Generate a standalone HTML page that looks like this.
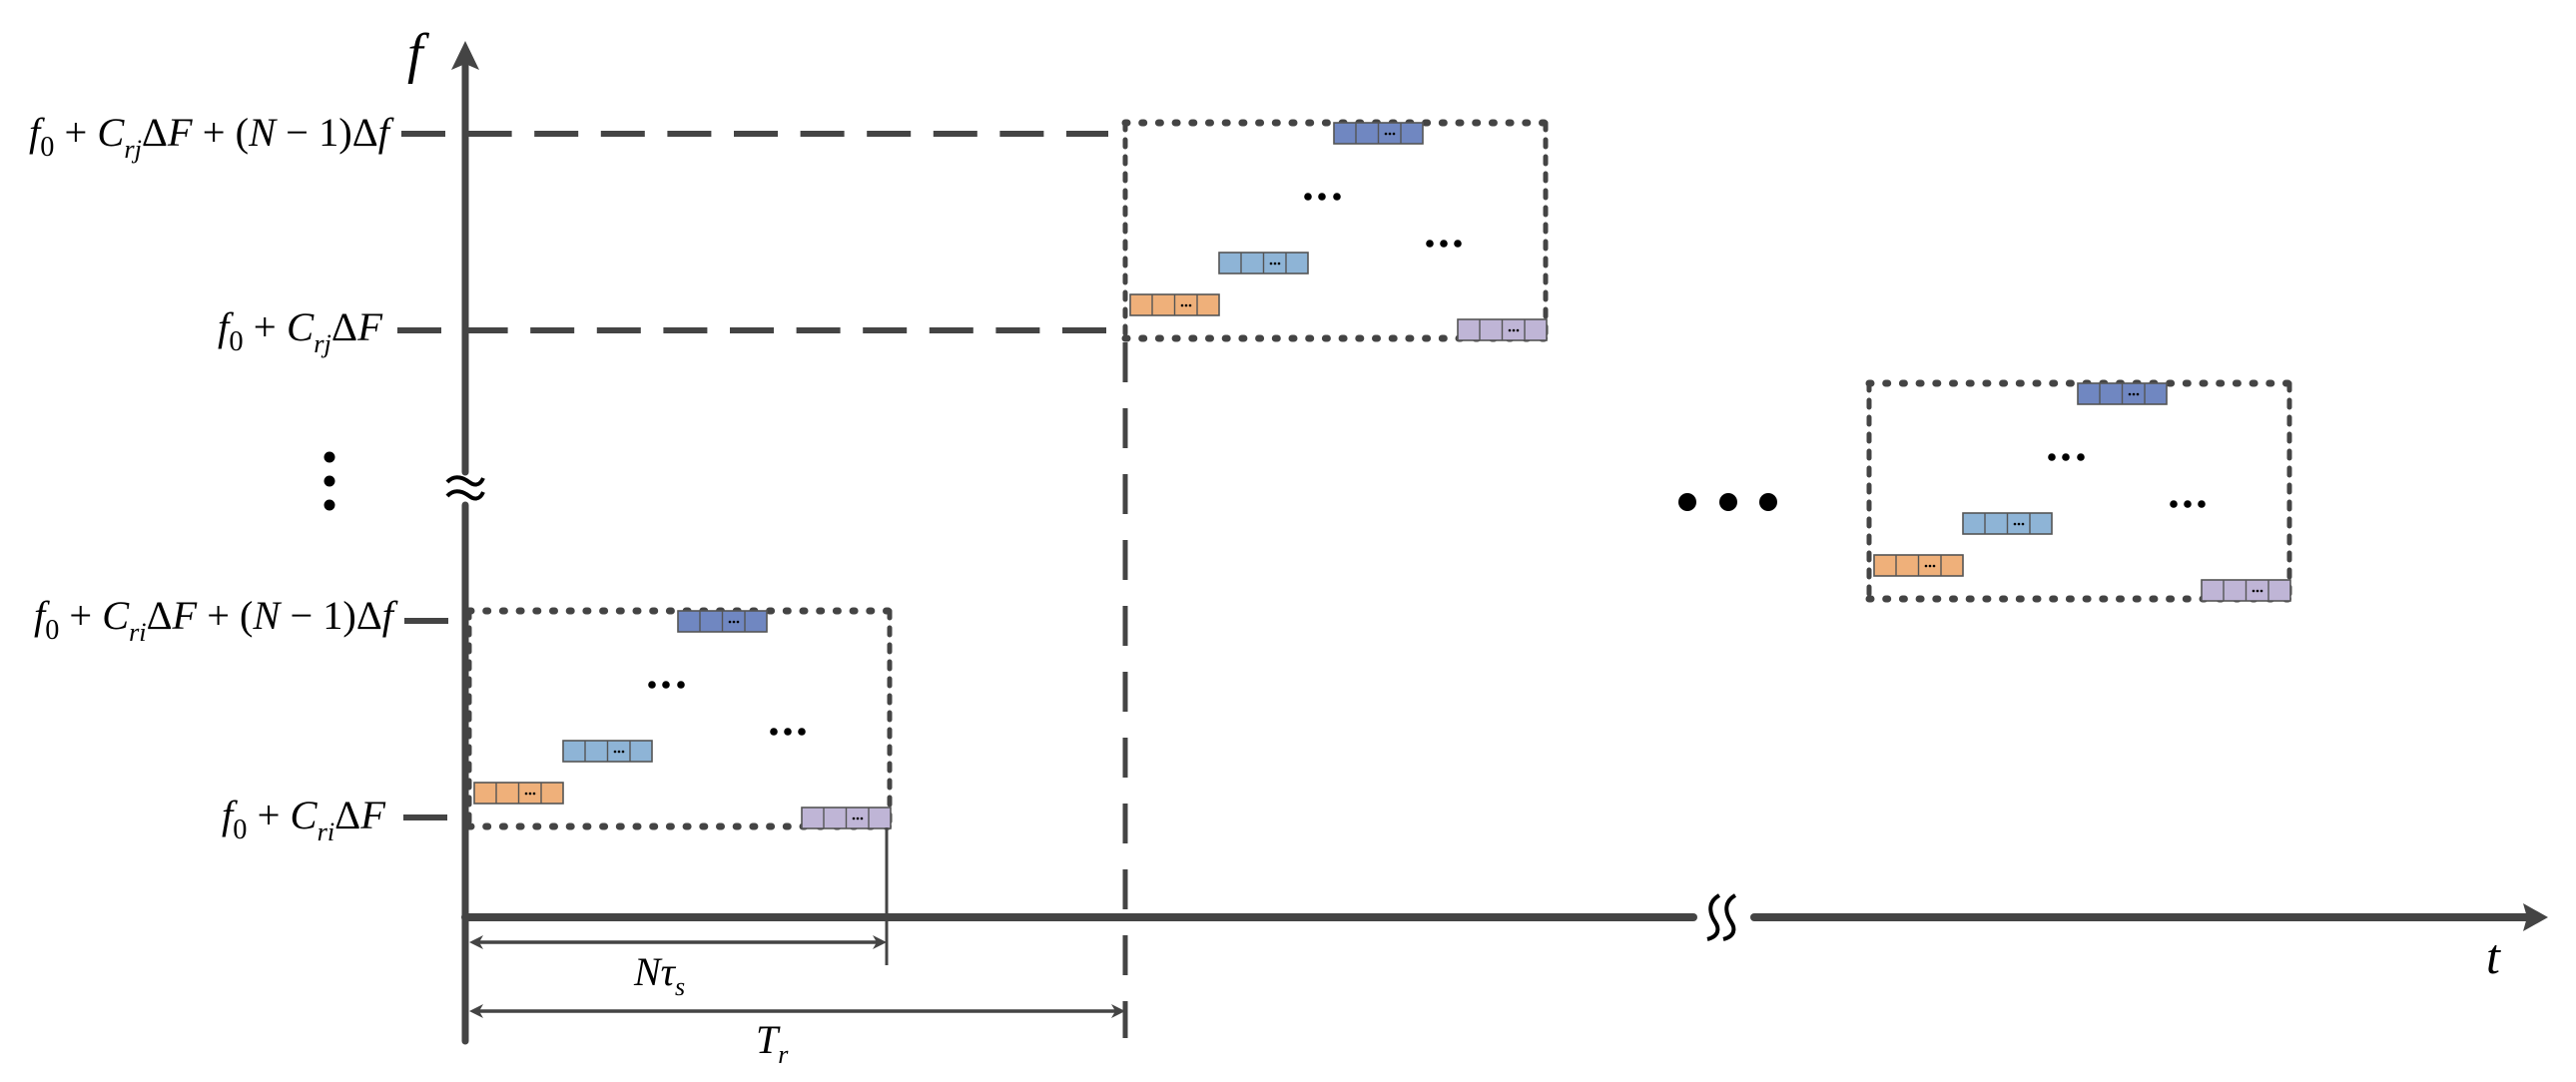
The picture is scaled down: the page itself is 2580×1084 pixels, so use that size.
<!DOCTYPE html>
<html><head><meta charset="utf-8"><style>
html,body{margin:0;padding:0;background:#fff;}
svg{display:block;}
text{font-family:"Liberation Serif",serif;font-style:italic;fill:#000;}
</style></head><body>
<svg width="2580" height="1084" viewBox="0 0 2580 1084" xmlns="http://www.w3.org/2000/svg" font-family="Liberation Serif, serif">
<defs>
<g id="blk">
  <rect x="0" y="0" width="89" height="21" stroke="#555" stroke-width="1.6"/>
  <line x1="22" y1="0" x2="22" y2="21" stroke="#555" stroke-width="1.4"/>
  <line x1="44.5" y1="0" x2="44.5" y2="21" stroke="#555" stroke-width="1.4"/>
  <line x1="67" y1="0" x2="67" y2="21" stroke="#555" stroke-width="1.4"/>
  <circle cx="52" cy="11" r="1.3" fill="#000"/><circle cx="56" cy="11" r="1.3" fill="#000"/><circle cx="60" cy="11" r="1.3" fill="#000"/>
</g>
<g id="box">
  <line x1="0" y1="0" x2="421" y2="0" stroke="#444" stroke-width="7" stroke-linecap="round" stroke-dasharray="2 14.7"/>
  <line x1="0" y1="216" x2="421" y2="216" stroke="#444" stroke-width="7" stroke-linecap="round" stroke-dasharray="2 14.7"/>
  <line x1="0" y1="0" x2="0" y2="216" stroke="#444" stroke-width="5" stroke-linecap="round" stroke-dasharray="7 10"/>
  <line x1="421" y1="0" x2="421" y2="216" stroke="#444" stroke-width="5" stroke-linecap="round" stroke-dasharray="7 10"/>
  <use href="#blk" x="209" y="0" fill="#7087C1"/>
  <use href="#blk" x="94" y="130" fill="#8EB4D6"/>
  <use href="#blk" x="5" y="172" fill="#EFB07A"/>
  <use href="#blk" x="333" y="197" fill="#BFB5D6"/>
  <circle cx="183" cy="74" r="3.8" fill="#000"/><circle cx="197" cy="74" r="3.8" fill="#000"/><circle cx="212" cy="74" r="3.8" fill="#000"/>
  <circle cx="305" cy="121" r="3.8" fill="#000"/><circle cx="319" cy="121" r="3.8" fill="#000"/><circle cx="333" cy="121" r="3.8" fill="#000"/>
</g>
</defs>

<line x1="466" y1="66" x2="466" y2="473" stroke="#444" stroke-width="7" stroke-linecap="round"/>
<line x1="466" y1="506" x2="466" y2="1043" stroke="#444" stroke-width="7" stroke-linecap="round"/>
<polygon points="466,41 452,70 466,64 480,70" fill="#444"/>
<path d="M448,483 C456,474 466,480 470,483 S480,488 484,479" fill="none" stroke="#000" stroke-width="4"/>
<path d="M448,497 C456,488 466,494 470,497 S480,502 484,493" fill="none" stroke="#000" stroke-width="4"/>
<text x="408" y="72" font-size="56" font-family="Liberation Serif, serif" font-style="italic">f</text>

<line x1="466" y1="919" x2="1696" y2="919" stroke="#444" stroke-width="8" stroke-linecap="round"/>
<line x1="1757" y1="919" x2="2532" y2="919" stroke="#444" stroke-width="8" stroke-linecap="round"/>
<polygon points="2552,919 2527,905 2531,919 2527,933" fill="#444"/>
<path d="M1722,897 C1708,905 1714,918 1718,924 S1722,938 1710,941" fill="none" stroke="#000" stroke-width="4"/>
<path d="M1738,897 C1724,905 1730,918 1734,924 S1738,938 1726,941" fill="none" stroke="#000" stroke-width="4"/>
<text x="2490" y="975" font-size="50" font-family="Liberation Serif, serif" font-style="italic">t</text>

<line x1="402" y1="134" x2="1110" y2="134" stroke="#444" stroke-width="6" stroke-dasharray="44 22.6"/>
<line x1="398" y1="331" x2="1110" y2="331" stroke="#444" stroke-width="6" stroke-dasharray="44 22.6"/>
<line x1="405" y1="622" x2="449" y2="622" stroke="#444" stroke-width="6"/>
<line x1="404" y1="819" x2="448" y2="819" stroke="#444" stroke-width="6"/>

<line x1="1127" y1="343" x2="1127" y2="1040" stroke="#444" stroke-width="5" stroke-dasharray="40 26"/>

<g font-family="Liberation Serif, serif" font-style="italic">
<text x="29" y="146" font-size="40" textLength="361" lengthAdjust="spacingAndGlyphs">f<tspan font-style="normal" font-size="28" dy="10">0</tspan><tspan font-style="normal" dy="-10"> + </tspan>C<tspan font-size="26" dy="12">rj</tspan><tspan font-style="normal" dy="-12">Δ</tspan>F<tspan font-style="normal"> + (</tspan>N<tspan font-style="normal"> − 1)Δ</tspan>f</text>
<text x="218" y="341" font-size="40" textLength="165" lengthAdjust="spacingAndGlyphs">f<tspan font-style="normal" font-size="28" dy="10">0</tspan><tspan font-style="normal" dy="-10"> + </tspan>C<tspan font-size="26" dy="12">rj</tspan><tspan font-style="normal" dy="-12">Δ</tspan>F</text>
<text x="34" y="630" font-size="40" textLength="360" lengthAdjust="spacingAndGlyphs">f<tspan font-style="normal" font-size="28" dy="10">0</tspan><tspan font-style="normal" dy="-10"> + </tspan>C<tspan font-size="26" dy="12">ri</tspan><tspan font-style="normal" dy="-12">Δ</tspan>F<tspan font-style="normal"> + (</tspan>N<tspan font-style="normal"> − 1)Δ</tspan>f</text>
<text x="222" y="830" font-size="40" textLength="164" lengthAdjust="spacingAndGlyphs">f<tspan font-style="normal" font-size="28" dy="10">0</tspan><tspan font-style="normal" dy="-10"> + </tspan>C<tspan font-size="26" dy="12">ri</tspan><tspan font-style="normal" dy="-12">Δ</tspan>F</text>
<text x="635" y="987" font-size="40">Nτ<tspan font-size="26" dy="10">s</tspan></text>
<text x="757" y="1055" font-size="40">T<tspan font-size="26" dy="10">r</tspan></text>
</g>

<circle cx="330" cy="458" r="5.5" fill="#000"/><circle cx="330" cy="482" r="5.5" fill="#000"/><circle cx="330" cy="506" r="5.5" fill="#000"/>

<use href="#box" x="470" y="612"/>
<use href="#box" x="1127" y="123"/>
<use href="#box" x="1872" y="384"/>

<ellipse cx="1690" cy="503" rx="9" ry="9" fill="#000"/>
<ellipse cx="1731" cy="503" rx="9" ry="9" fill="#000"/>
<ellipse cx="1771" cy="503" rx="9" ry="9" fill="#000"/>

<line x1="888" y1="829" x2="888" y2="967" stroke="#444" stroke-width="3"/>
<line x1="474" y1="944" x2="884" y2="944" stroke="#444" stroke-width="3.5"/>
<polygon points="470,944 484,937 480,944 484,951" fill="#444"/>
<polygon points="888,944 874,937 878,944 874,951" fill="#444"/>

<line x1="474" y1="1013" x2="1123" y2="1013" stroke="#444" stroke-width="3.5"/>
<polygon points="470,1013 484,1006 480,1013 484,1020" fill="#444"/>
<polygon points="1127,1013 1113,1006 1117,1013 1113,1020" fill="#444"/>
</svg>
</body></html>
